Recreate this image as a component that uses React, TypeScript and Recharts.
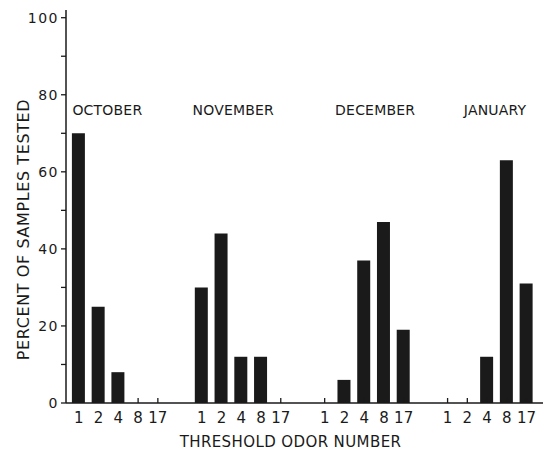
import React from 'react';
import { BarChart, Bar, XAxis, YAxis, ReferenceDot, Label } from 'recharts';

const months = ['OCTOBER', 'NOVEMBER', 'DECEMBER', 'JANUARY'];
const odorNumbers = ['1', '2', '4', '8', '17'];
const octoberPercent = [70, 25, 8, 0, 0];
const novemberPercent = [30, 44, 12, 12, 0];
const decemberPercent = [0, 6, 37, 47, 19];
const januaryPercent = [0, 0, 12, 63, 31];
const percentTicks = [0, 10, 20, 30, 40, 50, 60, 70, 80, 90, 100];
const monthTicks = [0, 1, 2, 3];

const monthSeries = [octoberPercent, novemberPercent, decemberPercent, januaryPercent];

const data = months.map((month, i) => {
  const row: Record<string, number | string> = { month, slot: i };
  odorNumbers.forEach((n, k) => {
    row['n' + n] = monthSeries[i][k];
  });
  return row;
});

const INK = '#1a1a1a';
const FONT = '"DejaVu Sans", sans-serif';
const BAR_SIZE = 13;
const BAR_GAP = 6.75;
const PITCH = BAR_SIZE + BAR_GAP;
// hand-lettered month titles sit a little off the group centres
const monthShift = [-11, -8, 11, 8];

function OdorTick(props: any) {
  const { x, y } = props;
  return (
    <g>
      {odorNumbers.map((n, k) => {
        const cx = x + (k - 2) * PITCH;
        return (
          <g key={n}>
            <line x1={cx} x2={cx} y1={y} y2={y - 5} stroke={INK} strokeWidth={1.3} />
            <text x={cx} y={y + 20} textAnchor="middle" fontSize={15} fontFamily={FONT} fill={INK}>
              {n}
            </text>
          </g>
        );
      })}
    </g>
  );
}

export default function App() {
  return (
    <div style={{ position: 'absolute', left: 0, top: 0, background: '#fff' }}>
      <BarChart
        width={543}
        height={450}
        data={data}
        margin={{ top: 10, right: 0, bottom: 10, left: 16 }}
        barGap={BAR_GAP}
      >
        <XAxis
          dataKey="slot"
          type="number"
          domain={[-0.426, 3.455]}
          ticks={monthTicks}
          tick={<OdorTick />}
          tickLine={false}
          tickSize={0}
          tickMargin={0}
          height={37}
          axisLine={{ stroke: INK, strokeWidth: 1.5 }}
          allowDataOverflow
        >
          <Label
            content={({ viewBox }: any) => (
              <text
                x={viewBox.x + viewBox.width / 2 - 14}
                y={viewBox.y + 44}
                textAnchor="middle"
                fontSize={15}
                letterSpacing={0.4}
                fontFamily={FONT}
                fill={INK}
              >
                THRESHOLD ODOR NUMBER
              </text>
            )}
          />
        </XAxis>
        <YAxis
          type="number"
          domain={[0, 102]}
          ticks={percentTicks}
          tickFormatter={(v: number) => (v % 20 === 0 ? String(v) : '')}
          tick={{ fontSize: 14, fontFamily: FONT, fill: INK, letterSpacing: 1.5 }}
          tickSize={5}
          tickMargin={2}
          width={50}
          axisLine={{ stroke: INK, strokeWidth: 1.5 }}
          tickLine={{ stroke: INK, strokeWidth: 1.3 }}
          allowDataOverflow
        >
          <Label
            content={({ viewBox }: any) => (
              <text
                transform={`translate(${viewBox.x + 13}, ${viewBox.y + viewBox.height / 2 + 23}) rotate(-90)`}
                textAnchor="middle"
                fontSize={16}
                letterSpacing={0.6}
                fontFamily={FONT}
                fill={INK}
              >
                PERCENT OF SAMPLES TESTED
              </text>
            )}
          />
        </YAxis>
        {odorNumbers.map((n) => (
          <Bar key={n} dataKey={'n' + n} fill={INK} barSize={BAR_SIZE} isAnimationActive={false} />
        ))}
        {months.map((m, i) => (
          <ReferenceDot
            key={m}
            x={i}
            y={76}
            r={0}
            stroke="none"
            label={({ viewBox }: any) => (
              <text
                x={viewBox.x + viewBox.width / 2 + monthShift[i]}
                y={viewBox.y + viewBox.height / 2}
                dominantBaseline="central"
                textAnchor="middle"
                fontSize={14}
                letterSpacing={0.2}
                fontFamily={FONT}
                fill={INK}
              >
                {m}
              </text>
            )}
          />
        ))}
      </BarChart>
    </div>
  );
}
